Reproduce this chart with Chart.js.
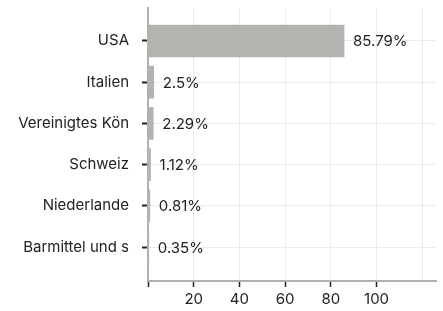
<!DOCTYPE html>
<html><head><meta charset="utf-8">
<script src="https://cdn.jsdelivr.net/npm/chart.js@4/dist/chart.umd.min.js"></script>
<style>html,body{margin:0;padding:0;background:#fff}#wrap{width:443px;height:311px}</style>
</head><body><div id="wrap"><canvas id="c" width="443" height="311"></canvas></div>
<script>
const categories = ["USA", "Italien", "Vereinigtes Kön", "Schweiz", "Niederlande", "Barmittel und s"];
const values = [85.79, 2.5, 2.29, 1.12, 0.81, 0.35];
const xTicks = [0, 20, 40, 60, 80, 100, 120];
const xLabels = ["", "20", "40", "60", "80", "100", ""];

const FONT = "Inter, 'DejaVu Sans', sans-serif";
const valueLabels = {
  id: 'valueLabels',
  afterDatasetsDraw(chart) {
    const ctx = chart.ctx;
    const meta = chart.getDatasetMeta(0);
    ctx.save();
    ctx.font = "15px " + FONT;
    ctx.fillStyle = "#222";
    ctx.textAlign = "left";
    ctx.textBaseline = "middle";
    meta.data.forEach((bar, i) => {
      ctx.fillText(values[i] + "%", bar.x + 9, bar.y + 1);
    });
    ctx.restore();
  }
};

new Chart(document.getElementById('c'), {
  type: 'bar',
  data: {
    datasets: [{
      data: values.map((v, i) => ({x: v, y: i})),
      backgroundColor: '#b4b3af',
      borderWidth: 0,
      barThickness: 32
    }]
  },
  options: {
    indexAxis: 'y',
    responsive: false,
    animation: false,
    layout: {padding: {top: 8, right: 7, left: 0, bottom: 0}},
    plugins: {legend: {display: false}, tooltip: {enabled: false}},
    scales: {
      x: {
        type: 'linear', min: 0, max: 126,
        afterBuildTicks: s => { s.ticks = xTicks.map(v => ({value: v})); },
        afterFit: s => { s.height = 30; s.paddingLeft = 0; s.paddingRight = 0; },
        ticks: {
          callback: (v) => xLabels[xTicks.indexOf(v)],
          font: {family: FONT, size: 15}, color: '#222', padding: 3, maxRotation: 0, autoSkip: false
        },
        grid: {
          color: '#ebebeb', lineWidth: 1, tickLength: 6,
          tickColor: c => (c.tick && c.tick.value > 100) ? 'rgba(0,0,0,0)' : '#222',
          tickWidth: 1.5
        },
        border: {color: '#b0b0b0', width: 2}
      },
      y: {
        type: 'linear', reverse: true, min: -0.8, max: 5.825, offset: false,
        afterBuildTicks: s => { s.ticks = categories.map((_, i) => ({value: i})); },
        afterFit: s => { s.width = 148; s.paddingTop = 0; s.paddingBottom = 0; },
        ticks: {
          callback: (v) => categories[v],
          font: {family: FONT, size: 15}, color: '#222', padding: 13, autoSkip: false
        },
        grid: {offset: false, color: '#ebebeb', lineWidth: 1, tickLength: 6, tickColor: '#222', tickWidth: 2},
        border: {color: '#b0b0b0', width: 2}
      }
    }
  },
  plugins: [valueLabels]
});
</script></body></html>
